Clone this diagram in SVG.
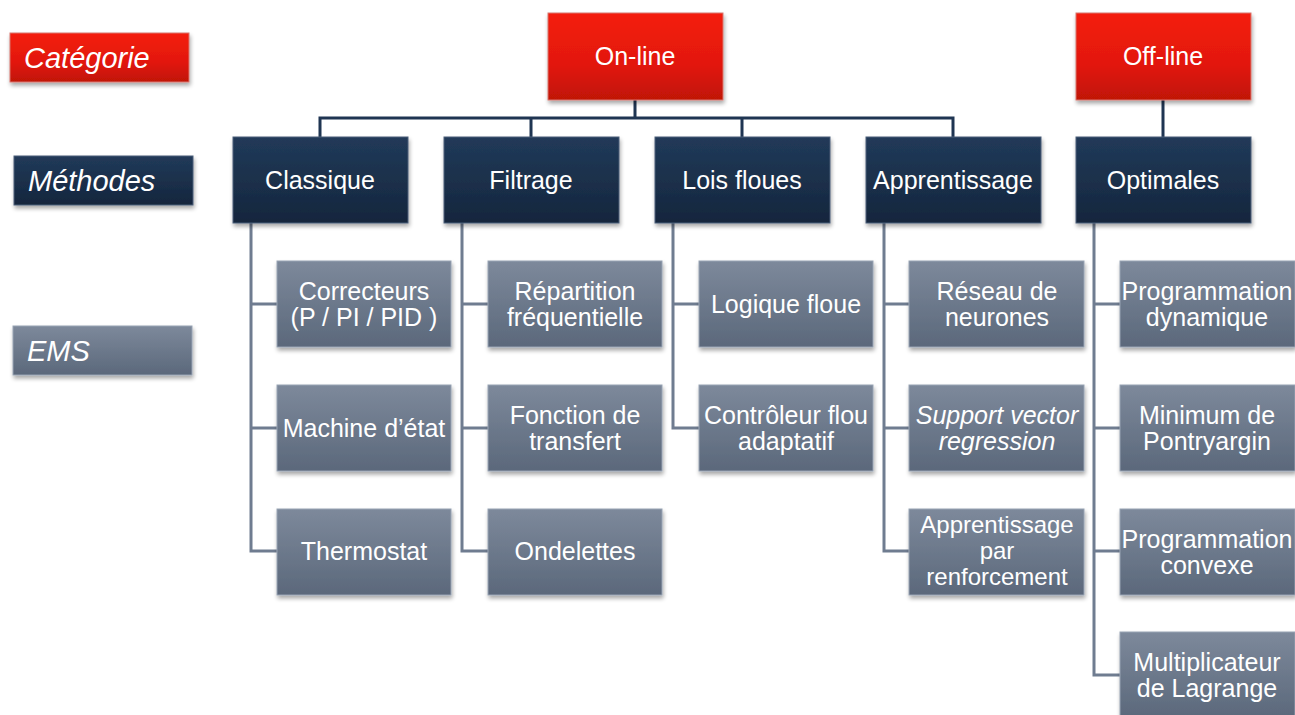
<svg xmlns="http://www.w3.org/2000/svg" width="1295" height="715" viewBox="0 0 1295 715">
<defs>
<linearGradient id="gRed" x1="0" y1="0" x2="0" y2="1"><stop offset="0" stop-color="#f41d0b"/><stop offset="0.6" stop-color="#e2180a"/><stop offset="1" stop-color="#c01306"/></linearGradient>
<linearGradient id="gNavy" x1="0" y1="0" x2="0" y2="1"><stop offset="0" stop-color="#213a59"/><stop offset="1" stop-color="#15263d"/></linearGradient>
<linearGradient id="gGray" x1="0" y1="0" x2="0" y2="1"><stop offset="0" stop-color="#7d899b"/><stop offset="1" stop-color="#5b687b"/></linearGradient>
<filter id="sh" x="-10%" y="-10%" width="125%" height="130%"><feGaussianBlur in="SourceAlpha" stdDeviation="2"/><feOffset dx="1" dy="3"/><feComponentTransfer><feFuncA type="linear" slope="0.35"/></feComponentTransfer><feMerge><feMergeNode/><feMergeNode in="SourceGraphic"/></feMerge></filter>
</defs>
<style>
.red{fill:url(#gRed);stroke:#d8776f;stroke-width:1;filter:url(#sh)}
.navy{fill:url(#gNavy);stroke:#4a5e78;stroke-width:1;filter:url(#sh)}
.gray{fill:url(#gGray);stroke:#98a3b3;stroke-width:1;filter:url(#sh)}
text{font-family:"Liberation Sans",Arial,sans-serif;fill:#fff;font-size:25px;text-anchor:middle}
.leg{font-size:29px;font-style:italic;text-anchor:start}
.it{font-style:italic}
.sm{font-size:24px}
.cn{fill:none;stroke:#1f3552;stroke-width:3}
.ce{fill:none;stroke:#6f7c90;stroke-width:3}
</style>
<g id="connectors">
<path class="cn" d="M635,100 V118 M320,137 V118 H953 V137 M531,118 V137 M742,118 V137 M1163,100 V137"/>
<path class="ce" d="M251,223 V551 H277 M251,304 H277 M251,428 H277"/>
<path class="ce" d="M462,223 V551 H488 M462,304 H488 M462,428 H488"/>
<path class="ce" d="M673,223 V428 H699 M673,304 H699"/>
<path class="ce" d="M884,223 V551 H909 M884,304 H909 M884,428 H909"/>
<path class="ce" d="M1094,223 V675 H1120 M1094,304 H1120 M1094,428 H1120 M1094,551 H1120"/>
</g>
<g id="legend-categorie"><rect class="red" x="10" y="33" width="179" height="49"/><text class="leg" x="24" y="68">Catégorie</text></g>
<g id="legend-methodes"><rect class="navy" x="14" y="156" width="179" height="49"/><text class="leg" x="28" y="191">Méthodes</text></g>
<g id="legend-ems"><rect class="gray" x="13" y="326" width="179" height="49"/><text class="leg" x="27" y="361">EMS</text></g>
<g id="online"><rect class="red" x="548" y="13" width="175" height="87"/><text x="635" y="65">On-line</text></g>
<g id="offline"><rect class="red" x="1076" y="13" width="175" height="87"/><text x="1163" y="65">Off-line</text></g>
<g id="classique"><rect class="navy" x="233" y="137" width="175" height="86"/><text x="320" y="189">Classique</text></g>
<g id="filtrage"><rect class="navy" x="444" y="137" width="175" height="86"/><text x="531" y="189">Filtrage</text></g>
<g id="lois-floues"><rect class="navy" x="655" y="137" width="175" height="86"/><text x="742" y="189">Lois floues</text></g>
<g id="apprentissage"><rect class="navy" x="866" y="137" width="175" height="86"/><text x="953" y="189">Apprentissage</text></g>
<g id="optimales"><rect class="navy" x="1076" y="137" width="175" height="86"/><text x="1163" y="189">Optimales</text></g>
<g id="correcteurs"><rect class="gray" x="277" y="261" width="174" height="86"/><text x="364" y="300">Correcteurs</text><text x="364" y="326">(P / PI / PID )</text></g>
<g id="machine-etat"><rect class="gray" x="277" y="385" width="174" height="86"/><text x="364" y="437">Machine d’état</text></g>
<g id="thermostat"><rect class="gray" x="277" y="509" width="174" height="86"/><text x="364" y="560">Thermostat</text></g>
<g id="repartition"><rect class="gray" x="488" y="261" width="174" height="86"/><text x="575" y="300">Répartition</text><text x="575" y="326">fréquentielle</text></g>
<g id="fonction-transfert"><rect class="gray" x="488" y="385" width="174" height="86"/><text x="575" y="424">Fonction de</text><text x="575" y="450">transfert</text></g>
<g id="ondelettes"><rect class="gray" x="488" y="509" width="174" height="86"/><text x="575" y="560">Ondelettes</text></g>
<g id="logique-floue"><rect class="gray" x="699" y="261" width="174" height="86"/><text x="786" y="313">Logique floue</text></g>
<g id="controleur-flou"><rect class="gray" x="699" y="385" width="174" height="86"/><text x="786" y="424">Contrôleur flou</text><text x="786" y="450">adaptatif</text></g>
<g id="reseau-neurones"><rect class="gray" x="909" y="261" width="175" height="86"/><text x="997" y="300">Réseau de</text><text x="997" y="326">neurones</text></g>
<g id="svr"><rect class="gray" x="909" y="385" width="175" height="86"/><text class="it" x="997" y="424">Support vector</text><text class="it" x="997" y="450">regression</text></g>
<g id="apprentissage-renforcement"><rect class="gray" x="909" y="509" width="175" height="86"/><text class="sm" x="997" y="533">Apprentissage</text><text class="sm" x="997" y="559">par</text><text class="sm" x="997" y="585">renforcement</text></g>
<g id="prog-dynamique"><rect class="gray" x="1120" y="261" width="175" height="86"/><text x="1207" y="300">Programmation</text><text x="1207" y="326">dynamique</text></g>
<g id="pontryargin"><rect class="gray" x="1120" y="385" width="175" height="86"/><text x="1207" y="424">Minimum de</text><text x="1207" y="450">Pontryargin</text></g>
<g id="prog-convexe"><rect class="gray" x="1120" y="509" width="175" height="86"/><text x="1207" y="548">Programmation</text><text x="1207" y="574">convexe</text></g>
<g id="lagrange"><rect class="gray" x="1120" y="632" width="175" height="86"/><text x="1207" y="671">Multiplicateur</text><text x="1207" y="697">de Lagrange</text></g>
</svg>
